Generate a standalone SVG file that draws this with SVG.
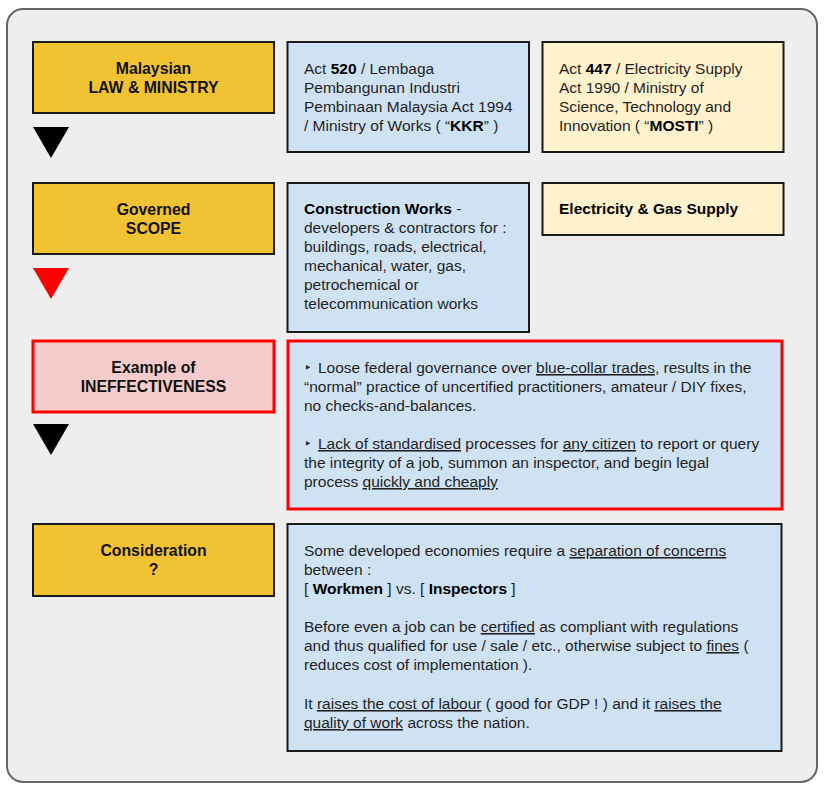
<svg xmlns="http://www.w3.org/2000/svg" width="828" height="789" viewBox="0 0 828 789">
<style>
text{font-family:"Liberation Sans",Arial,sans-serif;font-size:15.5px;fill:#1f1f1f}
.h{font-weight:bold;text-anchor:middle;fill:#111;font-size:15.8px}
.b{font-weight:bold;fill:#000}
.u{text-decoration:underline}
.bul{font-family:"DejaVu Sans",sans-serif;font-size:13px;fill:#1f1f1f}
.box{stroke:#1a1a1a;stroke-width:2}
.yel{fill:#f1c232}
.blu{fill:#cfe2f3}
.crm{fill:#fff2cc}
.red{stroke:#ff0000;stroke-width:3}
</style>
<rect x="7" y="9" width="810" height="773" rx="16" fill="#eeeeee" stroke="#666666" stroke-width="2"/>

<g id="connectors">
<polygon points="33,127 69,127 51,158" fill="#000"/>
<polygon points="33,268 69,268 51,299" fill="#ff0000"/>
<polygon points="33,424 69,424 51,455" fill="#000"/>
</g>

<g id="law">
<rect class="box yel" x="33" y="42" width="241" height="71"/>
<text class="h" x="153.5" y="74">Malaysian</text>
<text class="h" x="153.5" y="93">LAW &amp; MINISTRY</text>
</g>
<g id="act520">
<rect class="box blu" x="287.5" y="42" width="241.5" height="110"/>
<text x="304" y="74">Act <tspan class="b">520</tspan> / Lembaga</text>
<text x="304" y="93">Pembangunan Industri</text>
<text x="304" y="112">Pembinaan Malaysia Act 1994</text>
<text x="304" y="131">/ Ministry of Works ( “<tspan class="b">KKR</tspan>” )</text>
</g>
<g id="act447">
<rect class="box crm" x="542.5" y="42" width="241" height="110"/>
<text x="559" y="74">Act <tspan class="b">447</tspan> / Electricity Supply</text>
<text x="559" y="93">Act 1990 / Ministry of</text>
<text x="559" y="112">Science, Technology and</text>
<text x="559" y="131">Innovation ( “<tspan class="b">MOSTI</tspan>” )</text>
</g>

<g id="scope">
<rect class="box yel" x="33" y="183" width="241" height="71"/>
<text class="h" x="153.5" y="215">Governed</text>
<text class="h" x="153.5" y="234">SCOPE</text>
</g>
<g id="construction">
<rect class="box blu" x="287.5" y="183" width="241.5" height="149"/>
<text x="304" y="214"><tspan class="b">Construction Works</tspan> -</text>
<text x="304" y="233">developers &amp; contractors for :</text>
<text x="304" y="252">buildings, roads, electrical,</text>
<text x="304" y="271">mechanical, water, gas,</text>
<text x="304" y="290">petrochemical or</text>
<text x="304" y="309">telecommunication works</text>
</g>
<g id="electricity">
<rect class="box crm" x="542.5" y="183" width="241" height="52"/>
<text x="559" y="214" class="b">Electricity &amp; Gas Supply</text>
</g>

<g id="example">
<rect class="red" fill="#f4cccc" x="33" y="341" width="241" height="71"/>
<text class="h" x="153.5" y="373">Example of</text>
<text class="h" x="153.5" y="392">INEFFECTIVENESS</text>
</g>
<g id="ineffective">
<rect class="red" fill="#cfe2f3" x="288" y="341" width="494" height="168"/>
<text class="bul" x="304" y="372">‣</text>
<text x="318" y="373">Loose federal governance over <tspan class="u">blue-collar trades</tspan>, results in the</text>
<text x="304" y="392">“normal” practice of uncertified practitioners, amateur / DIY fixes,</text>
<text x="304" y="411">no checks-and-balances.</text>
<text class="bul" x="304" y="448">‣</text>
<text x="318" y="449"><tspan class="u">Lack of standardised</tspan> processes for <tspan class="u">any citizen</tspan> to report or query</text>
<text x="304" y="468">the integrity of a job, summon an inspector, and begin legal</text>
<text x="304" y="487">process <tspan class="u">quickly and cheaply</tspan></text>
</g>

<g id="consideration">
<rect class="box yel" x="33" y="524" width="241" height="72"/>
<text class="h" x="153.5" y="556">Consideration</text>
<text class="h" x="153.5" y="575">?</text>
</g>
<g id="separation">
<rect class="box blu" x="287.5" y="524" width="494" height="227"/>
<text x="304" y="556">Some developed economies require a <tspan class="u">separation of concerns</tspan></text>
<text x="304" y="575">between :</text>
<text x="304" y="594">[ <tspan class="b">Workmen</tspan> ] vs. [ <tspan class="b">Inspectors</tspan> ]</text>
<text x="304" y="632">Before even a job can be <tspan class="u">certified</tspan> as compliant with regulations</text>
<text x="304" y="651">and thus qualified for use / sale / etc., otherwise subject to <tspan class="u">fines</tspan> (</text>
<text x="304" y="670">reduces cost of implementation ).</text>
<text x="304" y="709">It <tspan class="u">raises the cost of labour</tspan> ( good for GDP ! ) and it <tspan class="u">raises the</tspan></text>
<text x="304" y="728"><tspan class="u">quality of work</tspan> across the nation.</text>
</g>
</svg>
